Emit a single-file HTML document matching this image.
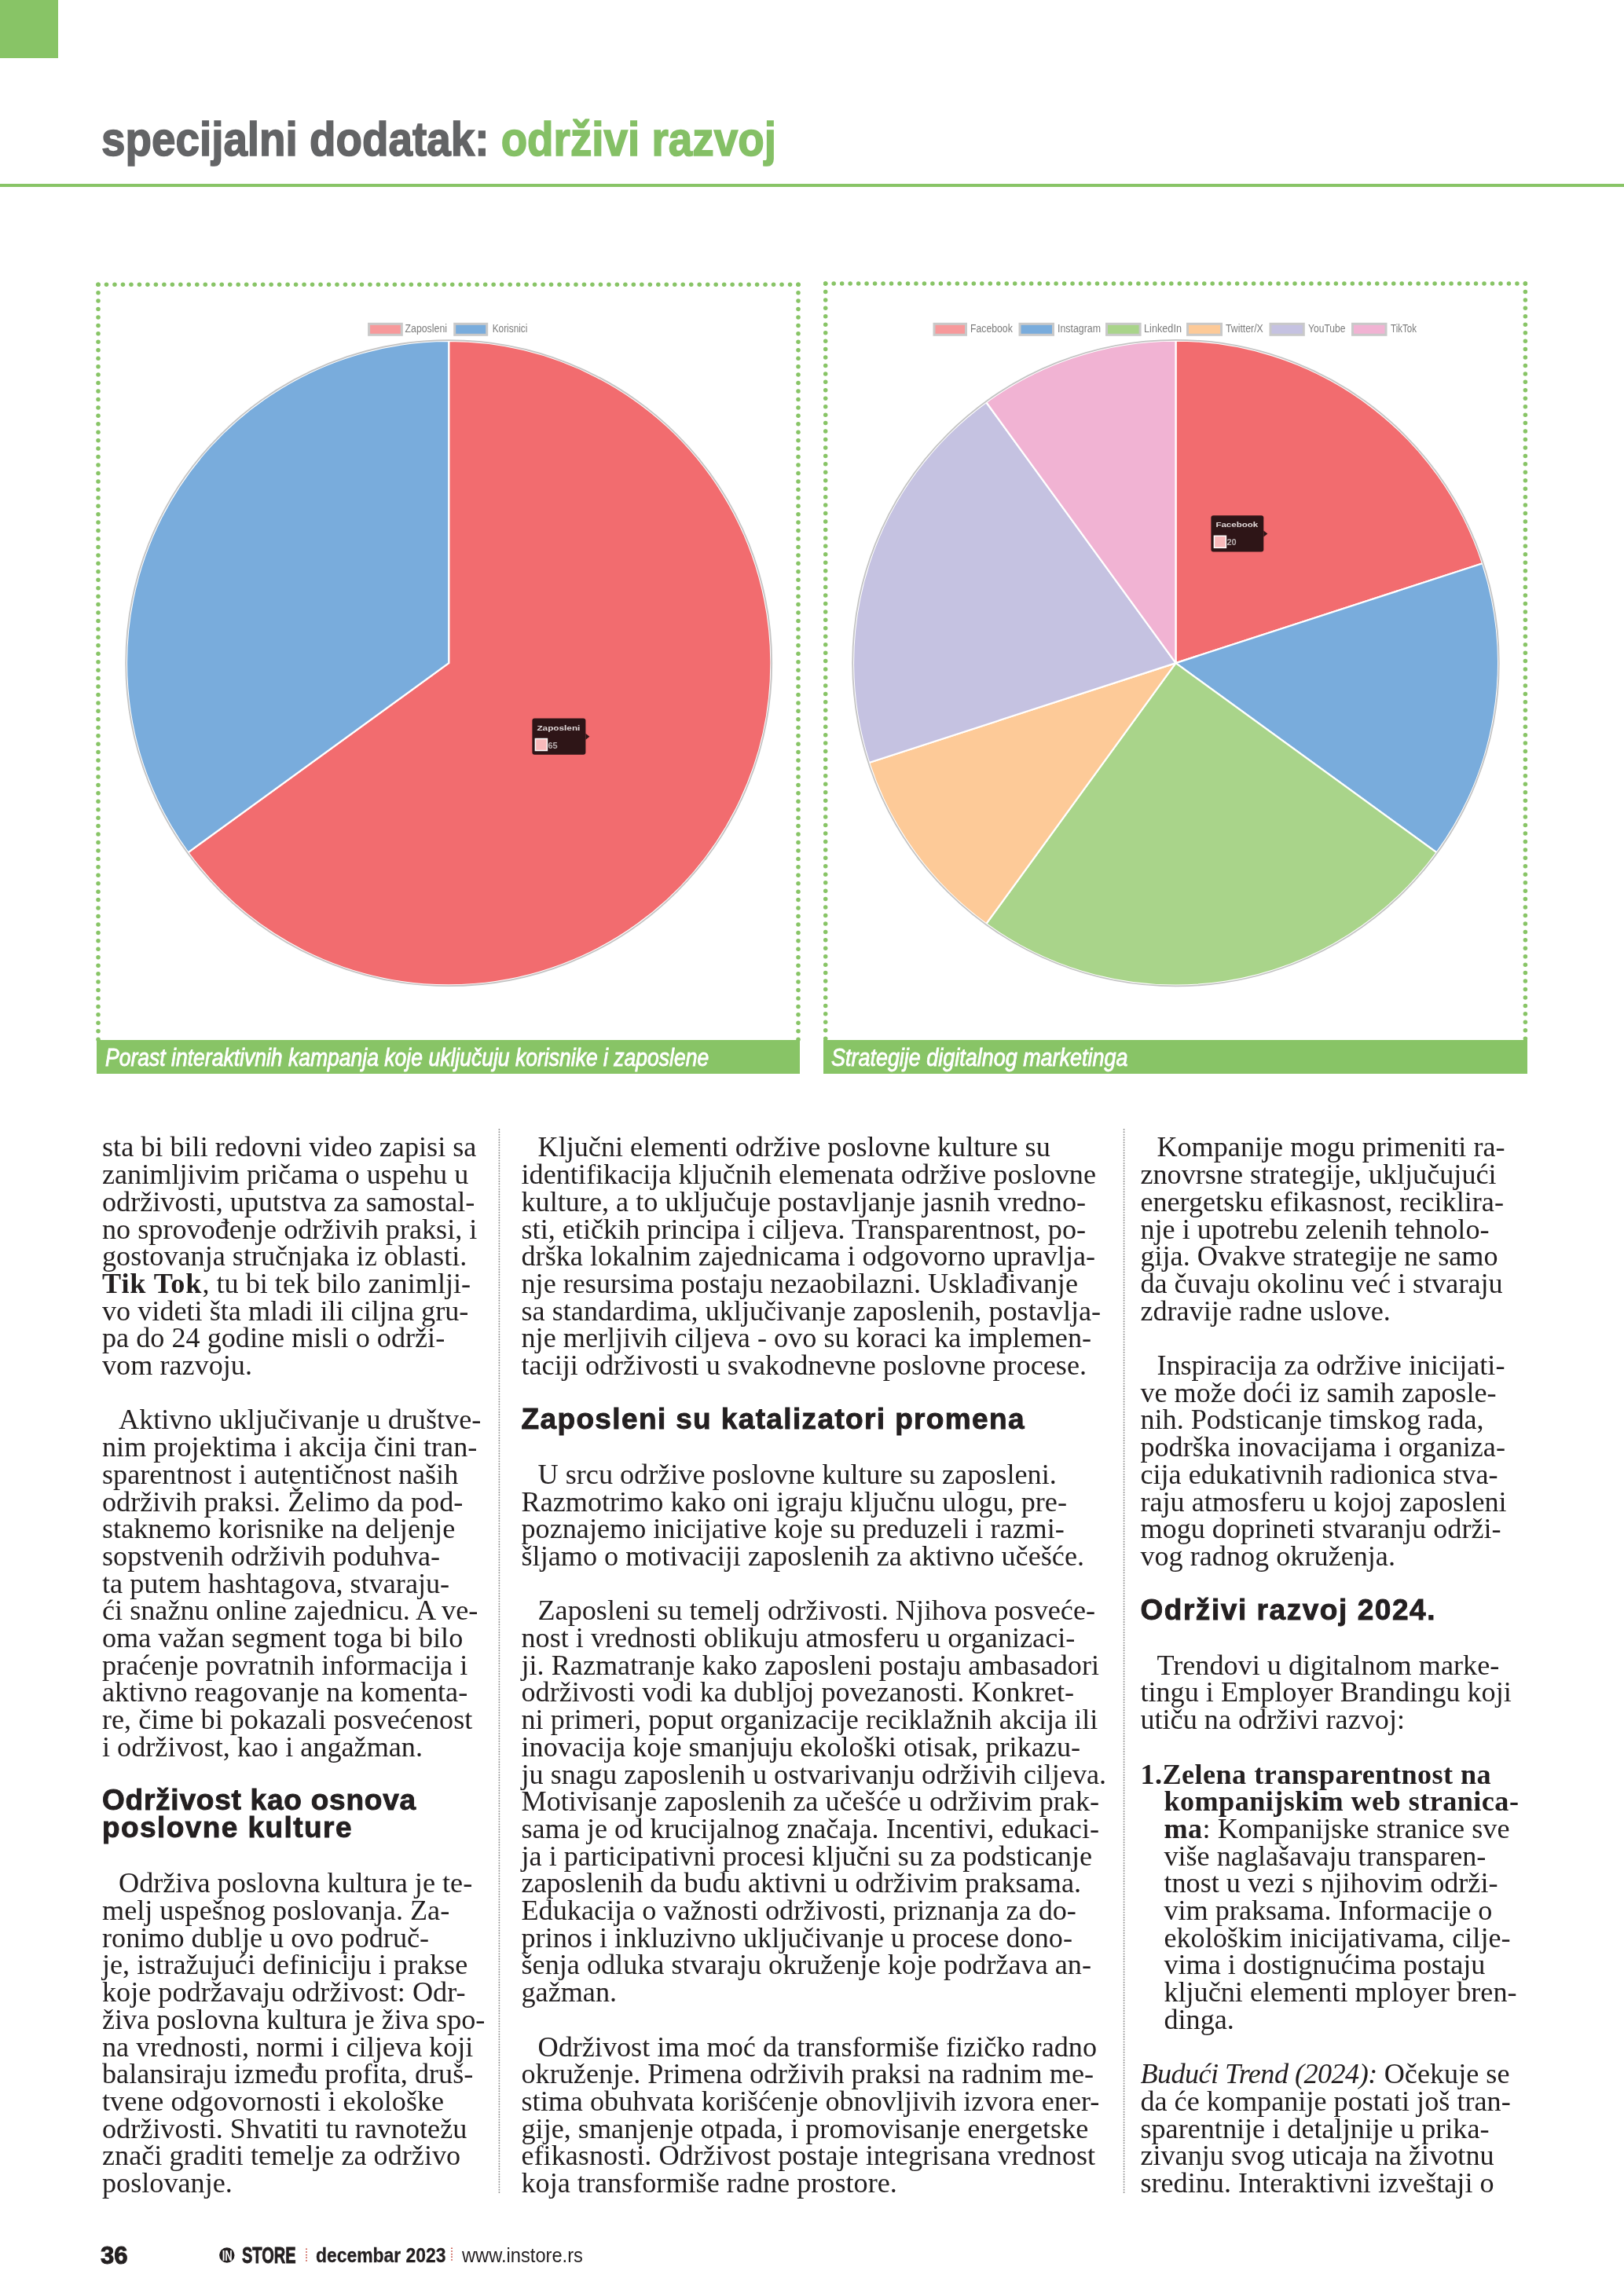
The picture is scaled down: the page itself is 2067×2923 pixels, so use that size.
<!DOCTYPE html>
<html><head><meta charset="utf-8">
<style>
html,body{margin:0;padding:0;background:#fff;}
body{width:2067px;height:2923px;position:relative;overflow:hidden;}
.ln,.hd{position:absolute;white-space:nowrap;height:0;line-height:0;}
#txt{position:absolute;left:0;top:0;width:2067px;height:2923px;will-change:transform;}
.ln span,.hd span{position:absolute;left:0;bottom:0;}
.ln{font-family:"Liberation Serif",serif;font-size:36.2px;color:#231f20;}
.ln b{letter-spacing:0.45px;}
.ln.ind{margin-left:21px;}
.ln.li{margin-left:30px;}
.hd{font-family:"Liberation Sans",sans-serif;font-weight:bold;font-size:37px;color:#231f20;letter-spacing:1.0px;-webkit-text-stroke:0.9px #231f20;}
.title{position:absolute;left:129px;top:0;font-family:"Liberation Sans",sans-serif;font-weight:bold;font-size:62px;white-space:nowrap;transform-origin:0 0;}
.cap{position:absolute;font-family:"Liberation Sans",sans-serif;font-style:italic;font-size:30px;color:#fff;white-space:nowrap;transform-origin:0 0;-webkit-text-stroke:0.9px #fff;}
.bar{position:absolute;background:#88c466;}
.rule{position:absolute;width:2px;background:repeating-linear-gradient(to bottom,#8c8c8c 0 1.7px,transparent 1.7px 3.3px);}
.foot{position:absolute;font-family:"Liberation Sans",sans-serif;font-weight:bold;color:#231f20;white-space:nowrap;}
</style></head><body><div id="pg" style="position:absolute;left:0;top:0;width:2067px;height:2923px;will-change:transform">
<div style="position:absolute;left:0;top:0;width:74px;height:74px;background:#88c466"></div>
<div class="title" style="top:141px;transform:scaleX(0.884)"><span style="color:#636466;-webkit-text-stroke:1.6px #636466">specijalni dodatak:</span> <span style="color:#85c066;-webkit-text-stroke:1.6px #85c066">održivi razvoj</span></div>
<div style="position:absolute;left:0;top:234px;width:2067px;height:3.5px;background:#88c466"></div>
<svg width="2067" height="2923" viewBox="0 0 2067 2923" style="position:absolute;left:0;top:0">
<g fill="#88c466"><circle cx="125.00" cy="362.20" r="2.75"/><circle cx="135.48" cy="362.20" r="2.75"/><circle cx="145.96" cy="362.20" r="2.75"/><circle cx="156.45" cy="362.20" r="2.75"/><circle cx="166.93" cy="362.20" r="2.75"/><circle cx="177.41" cy="362.20" r="2.75"/><circle cx="187.89" cy="362.20" r="2.75"/><circle cx="198.38" cy="362.20" r="2.75"/><circle cx="208.86" cy="362.20" r="2.75"/><circle cx="219.34" cy="362.20" r="2.75"/><circle cx="229.82" cy="362.20" r="2.75"/><circle cx="240.31" cy="362.20" r="2.75"/><circle cx="250.79" cy="362.20" r="2.75"/><circle cx="261.27" cy="362.20" r="2.75"/><circle cx="271.75" cy="362.20" r="2.75"/><circle cx="282.24" cy="362.20" r="2.75"/><circle cx="292.72" cy="362.20" r="2.75"/><circle cx="303.20" cy="362.20" r="2.75"/><circle cx="313.68" cy="362.20" r="2.75"/><circle cx="324.16" cy="362.20" r="2.75"/><circle cx="334.65" cy="362.20" r="2.75"/><circle cx="345.13" cy="362.20" r="2.75"/><circle cx="355.61" cy="362.20" r="2.75"/><circle cx="366.09" cy="362.20" r="2.75"/><circle cx="376.58" cy="362.20" r="2.75"/><circle cx="387.06" cy="362.20" r="2.75"/><circle cx="397.54" cy="362.20" r="2.75"/><circle cx="408.02" cy="362.20" r="2.75"/><circle cx="418.51" cy="362.20" r="2.75"/><circle cx="428.99" cy="362.20" r="2.75"/><circle cx="439.47" cy="362.20" r="2.75"/><circle cx="449.95" cy="362.20" r="2.75"/><circle cx="460.44" cy="362.20" r="2.75"/><circle cx="470.92" cy="362.20" r="2.75"/><circle cx="481.40" cy="362.20" r="2.75"/><circle cx="491.88" cy="362.20" r="2.75"/><circle cx="502.36" cy="362.20" r="2.75"/><circle cx="512.85" cy="362.20" r="2.75"/><circle cx="523.33" cy="362.20" r="2.75"/><circle cx="533.81" cy="362.20" r="2.75"/><circle cx="544.29" cy="362.20" r="2.75"/><circle cx="554.78" cy="362.20" r="2.75"/><circle cx="565.26" cy="362.20" r="2.75"/><circle cx="575.74" cy="362.20" r="2.75"/><circle cx="586.22" cy="362.20" r="2.75"/><circle cx="596.71" cy="362.20" r="2.75"/><circle cx="607.19" cy="362.20" r="2.75"/><circle cx="617.67" cy="362.20" r="2.75"/><circle cx="628.15" cy="362.20" r="2.75"/><circle cx="638.64" cy="362.20" r="2.75"/><circle cx="649.12" cy="362.20" r="2.75"/><circle cx="659.60" cy="362.20" r="2.75"/><circle cx="670.08" cy="362.20" r="2.75"/><circle cx="680.56" cy="362.20" r="2.75"/><circle cx="691.05" cy="362.20" r="2.75"/><circle cx="701.53" cy="362.20" r="2.75"/><circle cx="712.01" cy="362.20" r="2.75"/><circle cx="722.49" cy="362.20" r="2.75"/><circle cx="732.98" cy="362.20" r="2.75"/><circle cx="743.46" cy="362.20" r="2.75"/><circle cx="753.94" cy="362.20" r="2.75"/><circle cx="764.42" cy="362.20" r="2.75"/><circle cx="774.91" cy="362.20" r="2.75"/><circle cx="785.39" cy="362.20" r="2.75"/><circle cx="795.87" cy="362.20" r="2.75"/><circle cx="806.35" cy="362.20" r="2.75"/><circle cx="816.84" cy="362.20" r="2.75"/><circle cx="827.32" cy="362.20" r="2.75"/><circle cx="837.80" cy="362.20" r="2.75"/><circle cx="848.28" cy="362.20" r="2.75"/><circle cx="858.76" cy="362.20" r="2.75"/><circle cx="869.25" cy="362.20" r="2.75"/><circle cx="879.73" cy="362.20" r="2.75"/><circle cx="890.21" cy="362.20" r="2.75"/><circle cx="900.69" cy="362.20" r="2.75"/><circle cx="911.18" cy="362.20" r="2.75"/><circle cx="921.66" cy="362.20" r="2.75"/><circle cx="932.14" cy="362.20" r="2.75"/><circle cx="942.62" cy="362.20" r="2.75"/><circle cx="953.11" cy="362.20" r="2.75"/><circle cx="963.59" cy="362.20" r="2.75"/><circle cx="974.07" cy="362.20" r="2.75"/><circle cx="984.55" cy="362.20" r="2.75"/><circle cx="995.04" cy="362.20" r="2.75"/><circle cx="1005.52" cy="362.20" r="2.75"/><circle cx="1016.00" cy="362.20" r="2.75"/><circle cx="125.00" cy="362.20" r="2.75"/><circle cx="125.00" cy="372.65" r="2.75"/><circle cx="125.00" cy="383.09" r="2.75"/><circle cx="125.00" cy="393.54" r="2.75"/><circle cx="125.00" cy="403.98" r="2.75"/><circle cx="125.00" cy="414.43" r="2.75"/><circle cx="125.00" cy="424.87" r="2.75"/><circle cx="125.00" cy="435.32" r="2.75"/><circle cx="125.00" cy="445.77" r="2.75"/><circle cx="125.00" cy="456.21" r="2.75"/><circle cx="125.00" cy="466.66" r="2.75"/><circle cx="125.00" cy="477.10" r="2.75"/><circle cx="125.00" cy="487.55" r="2.75"/><circle cx="125.00" cy="497.99" r="2.75"/><circle cx="125.00" cy="508.44" r="2.75"/><circle cx="125.00" cy="518.88" r="2.75"/><circle cx="125.00" cy="529.33" r="2.75"/><circle cx="125.00" cy="539.78" r="2.75"/><circle cx="125.00" cy="550.22" r="2.75"/><circle cx="125.00" cy="560.67" r="2.75"/><circle cx="125.00" cy="571.11" r="2.75"/><circle cx="125.00" cy="581.56" r="2.75"/><circle cx="125.00" cy="592.00" r="2.75"/><circle cx="125.00" cy="602.45" r="2.75"/><circle cx="125.00" cy="612.90" r="2.75"/><circle cx="125.00" cy="623.34" r="2.75"/><circle cx="125.00" cy="633.79" r="2.75"/><circle cx="125.00" cy="644.23" r="2.75"/><circle cx="125.00" cy="654.68" r="2.75"/><circle cx="125.00" cy="665.12" r="2.75"/><circle cx="125.00" cy="675.57" r="2.75"/><circle cx="125.00" cy="686.02" r="2.75"/><circle cx="125.00" cy="696.46" r="2.75"/><circle cx="125.00" cy="706.91" r="2.75"/><circle cx="125.00" cy="717.35" r="2.75"/><circle cx="125.00" cy="727.80" r="2.75"/><circle cx="125.00" cy="738.24" r="2.75"/><circle cx="125.00" cy="748.69" r="2.75"/><circle cx="125.00" cy="759.13" r="2.75"/><circle cx="125.00" cy="769.58" r="2.75"/><circle cx="125.00" cy="780.03" r="2.75"/><circle cx="125.00" cy="790.47" r="2.75"/><circle cx="125.00" cy="800.92" r="2.75"/><circle cx="125.00" cy="811.36" r="2.75"/><circle cx="125.00" cy="821.81" r="2.75"/><circle cx="125.00" cy="832.25" r="2.75"/><circle cx="125.00" cy="842.70" r="2.75"/><circle cx="125.00" cy="853.15" r="2.75"/><circle cx="125.00" cy="863.59" r="2.75"/><circle cx="125.00" cy="874.04" r="2.75"/><circle cx="125.00" cy="884.48" r="2.75"/><circle cx="125.00" cy="894.93" r="2.75"/><circle cx="125.00" cy="905.37" r="2.75"/><circle cx="125.00" cy="915.82" r="2.75"/><circle cx="125.00" cy="926.27" r="2.75"/><circle cx="125.00" cy="936.71" r="2.75"/><circle cx="125.00" cy="947.16" r="2.75"/><circle cx="125.00" cy="957.60" r="2.75"/><circle cx="125.00" cy="968.05" r="2.75"/><circle cx="125.00" cy="978.49" r="2.75"/><circle cx="125.00" cy="988.94" r="2.75"/><circle cx="125.00" cy="999.38" r="2.75"/><circle cx="125.00" cy="1009.83" r="2.75"/><circle cx="125.00" cy="1020.28" r="2.75"/><circle cx="125.00" cy="1030.72" r="2.75"/><circle cx="125.00" cy="1041.17" r="2.75"/><circle cx="125.00" cy="1051.61" r="2.75"/><circle cx="125.00" cy="1062.06" r="2.75"/><circle cx="125.00" cy="1072.50" r="2.75"/><circle cx="125.00" cy="1082.95" r="2.75"/><circle cx="125.00" cy="1093.40" r="2.75"/><circle cx="125.00" cy="1103.84" r="2.75"/><circle cx="125.00" cy="1114.29" r="2.75"/><circle cx="125.00" cy="1124.73" r="2.75"/><circle cx="125.00" cy="1135.18" r="2.75"/><circle cx="125.00" cy="1145.62" r="2.75"/><circle cx="125.00" cy="1156.07" r="2.75"/><circle cx="125.00" cy="1166.52" r="2.75"/><circle cx="125.00" cy="1176.96" r="2.75"/><circle cx="125.00" cy="1187.41" r="2.75"/><circle cx="125.00" cy="1197.85" r="2.75"/><circle cx="125.00" cy="1208.30" r="2.75"/><circle cx="125.00" cy="1218.74" r="2.75"/><circle cx="125.00" cy="1229.19" r="2.75"/><circle cx="125.00" cy="1239.63" r="2.75"/><circle cx="125.00" cy="1250.08" r="2.75"/><circle cx="125.00" cy="1260.53" r="2.75"/><circle cx="125.00" cy="1270.97" r="2.75"/><circle cx="125.00" cy="1281.42" r="2.75"/><circle cx="125.00" cy="1291.86" r="2.75"/><circle cx="125.00" cy="1302.31" r="2.75"/><circle cx="125.00" cy="1312.75" r="2.75"/><circle cx="125.00" cy="1323.20" r="2.75"/><circle cx="1016.00" cy="362.20" r="2.75"/><circle cx="1016.00" cy="372.65" r="2.75"/><circle cx="1016.00" cy="383.09" r="2.75"/><circle cx="1016.00" cy="393.54" r="2.75"/><circle cx="1016.00" cy="403.98" r="2.75"/><circle cx="1016.00" cy="414.43" r="2.75"/><circle cx="1016.00" cy="424.87" r="2.75"/><circle cx="1016.00" cy="435.32" r="2.75"/><circle cx="1016.00" cy="445.77" r="2.75"/><circle cx="1016.00" cy="456.21" r="2.75"/><circle cx="1016.00" cy="466.66" r="2.75"/><circle cx="1016.00" cy="477.10" r="2.75"/><circle cx="1016.00" cy="487.55" r="2.75"/><circle cx="1016.00" cy="497.99" r="2.75"/><circle cx="1016.00" cy="508.44" r="2.75"/><circle cx="1016.00" cy="518.88" r="2.75"/><circle cx="1016.00" cy="529.33" r="2.75"/><circle cx="1016.00" cy="539.78" r="2.75"/><circle cx="1016.00" cy="550.22" r="2.75"/><circle cx="1016.00" cy="560.67" r="2.75"/><circle cx="1016.00" cy="571.11" r="2.75"/><circle cx="1016.00" cy="581.56" r="2.75"/><circle cx="1016.00" cy="592.00" r="2.75"/><circle cx="1016.00" cy="602.45" r="2.75"/><circle cx="1016.00" cy="612.90" r="2.75"/><circle cx="1016.00" cy="623.34" r="2.75"/><circle cx="1016.00" cy="633.79" r="2.75"/><circle cx="1016.00" cy="644.23" r="2.75"/><circle cx="1016.00" cy="654.68" r="2.75"/><circle cx="1016.00" cy="665.12" r="2.75"/><circle cx="1016.00" cy="675.57" r="2.75"/><circle cx="1016.00" cy="686.02" r="2.75"/><circle cx="1016.00" cy="696.46" r="2.75"/><circle cx="1016.00" cy="706.91" r="2.75"/><circle cx="1016.00" cy="717.35" r="2.75"/><circle cx="1016.00" cy="727.80" r="2.75"/><circle cx="1016.00" cy="738.24" r="2.75"/><circle cx="1016.00" cy="748.69" r="2.75"/><circle cx="1016.00" cy="759.13" r="2.75"/><circle cx="1016.00" cy="769.58" r="2.75"/><circle cx="1016.00" cy="780.03" r="2.75"/><circle cx="1016.00" cy="790.47" r="2.75"/><circle cx="1016.00" cy="800.92" r="2.75"/><circle cx="1016.00" cy="811.36" r="2.75"/><circle cx="1016.00" cy="821.81" r="2.75"/><circle cx="1016.00" cy="832.25" r="2.75"/><circle cx="1016.00" cy="842.70" r="2.75"/><circle cx="1016.00" cy="853.15" r="2.75"/><circle cx="1016.00" cy="863.59" r="2.75"/><circle cx="1016.00" cy="874.04" r="2.75"/><circle cx="1016.00" cy="884.48" r="2.75"/><circle cx="1016.00" cy="894.93" r="2.75"/><circle cx="1016.00" cy="905.37" r="2.75"/><circle cx="1016.00" cy="915.82" r="2.75"/><circle cx="1016.00" cy="926.27" r="2.75"/><circle cx="1016.00" cy="936.71" r="2.75"/><circle cx="1016.00" cy="947.16" r="2.75"/><circle cx="1016.00" cy="957.60" r="2.75"/><circle cx="1016.00" cy="968.05" r="2.75"/><circle cx="1016.00" cy="978.49" r="2.75"/><circle cx="1016.00" cy="988.94" r="2.75"/><circle cx="1016.00" cy="999.38" r="2.75"/><circle cx="1016.00" cy="1009.83" r="2.75"/><circle cx="1016.00" cy="1020.28" r="2.75"/><circle cx="1016.00" cy="1030.72" r="2.75"/><circle cx="1016.00" cy="1041.17" r="2.75"/><circle cx="1016.00" cy="1051.61" r="2.75"/><circle cx="1016.00" cy="1062.06" r="2.75"/><circle cx="1016.00" cy="1072.50" r="2.75"/><circle cx="1016.00" cy="1082.95" r="2.75"/><circle cx="1016.00" cy="1093.40" r="2.75"/><circle cx="1016.00" cy="1103.84" r="2.75"/><circle cx="1016.00" cy="1114.29" r="2.75"/><circle cx="1016.00" cy="1124.73" r="2.75"/><circle cx="1016.00" cy="1135.18" r="2.75"/><circle cx="1016.00" cy="1145.62" r="2.75"/><circle cx="1016.00" cy="1156.07" r="2.75"/><circle cx="1016.00" cy="1166.52" r="2.75"/><circle cx="1016.00" cy="1176.96" r="2.75"/><circle cx="1016.00" cy="1187.41" r="2.75"/><circle cx="1016.00" cy="1197.85" r="2.75"/><circle cx="1016.00" cy="1208.30" r="2.75"/><circle cx="1016.00" cy="1218.74" r="2.75"/><circle cx="1016.00" cy="1229.19" r="2.75"/><circle cx="1016.00" cy="1239.63" r="2.75"/><circle cx="1016.00" cy="1250.08" r="2.75"/><circle cx="1016.00" cy="1260.53" r="2.75"/><circle cx="1016.00" cy="1270.97" r="2.75"/><circle cx="1016.00" cy="1281.42" r="2.75"/><circle cx="1016.00" cy="1291.86" r="2.75"/><circle cx="1016.00" cy="1302.31" r="2.75"/><circle cx="1016.00" cy="1312.75" r="2.75"/><circle cx="1016.00" cy="1323.20" r="2.75"/></g>
<g fill="#88c466"><circle cx="1050.70" cy="361.00" r="2.75"/><circle cx="1061.18" cy="361.00" r="2.75"/><circle cx="1071.66" cy="361.00" r="2.75"/><circle cx="1082.14" cy="361.00" r="2.75"/><circle cx="1092.62" cy="361.00" r="2.75"/><circle cx="1103.09" cy="361.00" r="2.75"/><circle cx="1113.57" cy="361.00" r="2.75"/><circle cx="1124.05" cy="361.00" r="2.75"/><circle cx="1134.53" cy="361.00" r="2.75"/><circle cx="1145.01" cy="361.00" r="2.75"/><circle cx="1155.49" cy="361.00" r="2.75"/><circle cx="1165.97" cy="361.00" r="2.75"/><circle cx="1176.45" cy="361.00" r="2.75"/><circle cx="1186.92" cy="361.00" r="2.75"/><circle cx="1197.40" cy="361.00" r="2.75"/><circle cx="1207.88" cy="361.00" r="2.75"/><circle cx="1218.36" cy="361.00" r="2.75"/><circle cx="1228.84" cy="361.00" r="2.75"/><circle cx="1239.32" cy="361.00" r="2.75"/><circle cx="1249.80" cy="361.00" r="2.75"/><circle cx="1260.28" cy="361.00" r="2.75"/><circle cx="1270.76" cy="361.00" r="2.75"/><circle cx="1281.23" cy="361.00" r="2.75"/><circle cx="1291.71" cy="361.00" r="2.75"/><circle cx="1302.19" cy="361.00" r="2.75"/><circle cx="1312.67" cy="361.00" r="2.75"/><circle cx="1323.15" cy="361.00" r="2.75"/><circle cx="1333.63" cy="361.00" r="2.75"/><circle cx="1344.11" cy="361.00" r="2.75"/><circle cx="1354.59" cy="361.00" r="2.75"/><circle cx="1365.06" cy="361.00" r="2.75"/><circle cx="1375.54" cy="361.00" r="2.75"/><circle cx="1386.02" cy="361.00" r="2.75"/><circle cx="1396.50" cy="361.00" r="2.75"/><circle cx="1406.98" cy="361.00" r="2.75"/><circle cx="1417.46" cy="361.00" r="2.75"/><circle cx="1427.94" cy="361.00" r="2.75"/><circle cx="1438.42" cy="361.00" r="2.75"/><circle cx="1448.90" cy="361.00" r="2.75"/><circle cx="1459.37" cy="361.00" r="2.75"/><circle cx="1469.85" cy="361.00" r="2.75"/><circle cx="1480.33" cy="361.00" r="2.75"/><circle cx="1490.81" cy="361.00" r="2.75"/><circle cx="1501.29" cy="361.00" r="2.75"/><circle cx="1511.77" cy="361.00" r="2.75"/><circle cx="1522.25" cy="361.00" r="2.75"/><circle cx="1532.73" cy="361.00" r="2.75"/><circle cx="1543.20" cy="361.00" r="2.75"/><circle cx="1553.68" cy="361.00" r="2.75"/><circle cx="1564.16" cy="361.00" r="2.75"/><circle cx="1574.64" cy="361.00" r="2.75"/><circle cx="1585.12" cy="361.00" r="2.75"/><circle cx="1595.60" cy="361.00" r="2.75"/><circle cx="1606.08" cy="361.00" r="2.75"/><circle cx="1616.56" cy="361.00" r="2.75"/><circle cx="1627.04" cy="361.00" r="2.75"/><circle cx="1637.51" cy="361.00" r="2.75"/><circle cx="1647.99" cy="361.00" r="2.75"/><circle cx="1658.47" cy="361.00" r="2.75"/><circle cx="1668.95" cy="361.00" r="2.75"/><circle cx="1679.43" cy="361.00" r="2.75"/><circle cx="1689.91" cy="361.00" r="2.75"/><circle cx="1700.39" cy="361.00" r="2.75"/><circle cx="1710.87" cy="361.00" r="2.75"/><circle cx="1721.34" cy="361.00" r="2.75"/><circle cx="1731.82" cy="361.00" r="2.75"/><circle cx="1742.30" cy="361.00" r="2.75"/><circle cx="1752.78" cy="361.00" r="2.75"/><circle cx="1763.26" cy="361.00" r="2.75"/><circle cx="1773.74" cy="361.00" r="2.75"/><circle cx="1784.22" cy="361.00" r="2.75"/><circle cx="1794.70" cy="361.00" r="2.75"/><circle cx="1805.18" cy="361.00" r="2.75"/><circle cx="1815.65" cy="361.00" r="2.75"/><circle cx="1826.13" cy="361.00" r="2.75"/><circle cx="1836.61" cy="361.00" r="2.75"/><circle cx="1847.09" cy="361.00" r="2.75"/><circle cx="1857.57" cy="361.00" r="2.75"/><circle cx="1868.05" cy="361.00" r="2.75"/><circle cx="1878.53" cy="361.00" r="2.75"/><circle cx="1889.01" cy="361.00" r="2.75"/><circle cx="1899.48" cy="361.00" r="2.75"/><circle cx="1909.96" cy="361.00" r="2.75"/><circle cx="1920.44" cy="361.00" r="2.75"/><circle cx="1930.92" cy="361.00" r="2.75"/><circle cx="1941.40" cy="361.00" r="2.75"/><circle cx="1050.70" cy="361.00" r="2.75"/><circle cx="1050.70" cy="371.45" r="2.75"/><circle cx="1050.70" cy="381.90" r="2.75"/><circle cx="1050.70" cy="392.34" r="2.75"/><circle cx="1050.70" cy="402.79" r="2.75"/><circle cx="1050.70" cy="413.24" r="2.75"/><circle cx="1050.70" cy="423.69" r="2.75"/><circle cx="1050.70" cy="434.13" r="2.75"/><circle cx="1050.70" cy="444.58" r="2.75"/><circle cx="1050.70" cy="455.03" r="2.75"/><circle cx="1050.70" cy="465.48" r="2.75"/><circle cx="1050.70" cy="475.93" r="2.75"/><circle cx="1050.70" cy="486.37" r="2.75"/><circle cx="1050.70" cy="496.82" r="2.75"/><circle cx="1050.70" cy="507.27" r="2.75"/><circle cx="1050.70" cy="517.72" r="2.75"/><circle cx="1050.70" cy="528.17" r="2.75"/><circle cx="1050.70" cy="538.61" r="2.75"/><circle cx="1050.70" cy="549.06" r="2.75"/><circle cx="1050.70" cy="559.51" r="2.75"/><circle cx="1050.70" cy="569.96" r="2.75"/><circle cx="1050.70" cy="580.40" r="2.75"/><circle cx="1050.70" cy="590.85" r="2.75"/><circle cx="1050.70" cy="601.30" r="2.75"/><circle cx="1050.70" cy="611.75" r="2.75"/><circle cx="1050.70" cy="622.20" r="2.75"/><circle cx="1050.70" cy="632.64" r="2.75"/><circle cx="1050.70" cy="643.09" r="2.75"/><circle cx="1050.70" cy="653.54" r="2.75"/><circle cx="1050.70" cy="663.99" r="2.75"/><circle cx="1050.70" cy="674.43" r="2.75"/><circle cx="1050.70" cy="684.88" r="2.75"/><circle cx="1050.70" cy="695.33" r="2.75"/><circle cx="1050.70" cy="705.78" r="2.75"/><circle cx="1050.70" cy="716.23" r="2.75"/><circle cx="1050.70" cy="726.67" r="2.75"/><circle cx="1050.70" cy="737.12" r="2.75"/><circle cx="1050.70" cy="747.57" r="2.75"/><circle cx="1050.70" cy="758.02" r="2.75"/><circle cx="1050.70" cy="768.47" r="2.75"/><circle cx="1050.70" cy="778.91" r="2.75"/><circle cx="1050.70" cy="789.36" r="2.75"/><circle cx="1050.70" cy="799.81" r="2.75"/><circle cx="1050.70" cy="810.26" r="2.75"/><circle cx="1050.70" cy="820.70" r="2.75"/><circle cx="1050.70" cy="831.15" r="2.75"/><circle cx="1050.70" cy="841.60" r="2.75"/><circle cx="1050.70" cy="852.05" r="2.75"/><circle cx="1050.70" cy="862.50" r="2.75"/><circle cx="1050.70" cy="872.94" r="2.75"/><circle cx="1050.70" cy="883.39" r="2.75"/><circle cx="1050.70" cy="893.84" r="2.75"/><circle cx="1050.70" cy="904.29" r="2.75"/><circle cx="1050.70" cy="914.73" r="2.75"/><circle cx="1050.70" cy="925.18" r="2.75"/><circle cx="1050.70" cy="935.63" r="2.75"/><circle cx="1050.70" cy="946.08" r="2.75"/><circle cx="1050.70" cy="956.53" r="2.75"/><circle cx="1050.70" cy="966.97" r="2.75"/><circle cx="1050.70" cy="977.42" r="2.75"/><circle cx="1050.70" cy="987.87" r="2.75"/><circle cx="1050.70" cy="998.32" r="2.75"/><circle cx="1050.70" cy="1008.77" r="2.75"/><circle cx="1050.70" cy="1019.21" r="2.75"/><circle cx="1050.70" cy="1029.66" r="2.75"/><circle cx="1050.70" cy="1040.11" r="2.75"/><circle cx="1050.70" cy="1050.56" r="2.75"/><circle cx="1050.70" cy="1061.00" r="2.75"/><circle cx="1050.70" cy="1071.45" r="2.75"/><circle cx="1050.70" cy="1081.90" r="2.75"/><circle cx="1050.70" cy="1092.35" r="2.75"/><circle cx="1050.70" cy="1102.80" r="2.75"/><circle cx="1050.70" cy="1113.24" r="2.75"/><circle cx="1050.70" cy="1123.69" r="2.75"/><circle cx="1050.70" cy="1134.14" r="2.75"/><circle cx="1050.70" cy="1144.59" r="2.75"/><circle cx="1050.70" cy="1155.03" r="2.75"/><circle cx="1050.70" cy="1165.48" r="2.75"/><circle cx="1050.70" cy="1175.93" r="2.75"/><circle cx="1050.70" cy="1186.38" r="2.75"/><circle cx="1050.70" cy="1196.83" r="2.75"/><circle cx="1050.70" cy="1207.27" r="2.75"/><circle cx="1050.70" cy="1217.72" r="2.75"/><circle cx="1050.70" cy="1228.17" r="2.75"/><circle cx="1050.70" cy="1238.62" r="2.75"/><circle cx="1050.70" cy="1249.07" r="2.75"/><circle cx="1050.70" cy="1259.51" r="2.75"/><circle cx="1050.70" cy="1269.96" r="2.75"/><circle cx="1050.70" cy="1280.41" r="2.75"/><circle cx="1050.70" cy="1290.86" r="2.75"/><circle cx="1050.70" cy="1301.30" r="2.75"/><circle cx="1050.70" cy="1311.75" r="2.75"/><circle cx="1050.70" cy="1322.20" r="2.75"/><circle cx="1941.40" cy="361.00" r="2.75"/><circle cx="1941.40" cy="371.45" r="2.75"/><circle cx="1941.40" cy="381.90" r="2.75"/><circle cx="1941.40" cy="392.34" r="2.75"/><circle cx="1941.40" cy="402.79" r="2.75"/><circle cx="1941.40" cy="413.24" r="2.75"/><circle cx="1941.40" cy="423.69" r="2.75"/><circle cx="1941.40" cy="434.13" r="2.75"/><circle cx="1941.40" cy="444.58" r="2.75"/><circle cx="1941.40" cy="455.03" r="2.75"/><circle cx="1941.40" cy="465.48" r="2.75"/><circle cx="1941.40" cy="475.93" r="2.75"/><circle cx="1941.40" cy="486.37" r="2.75"/><circle cx="1941.40" cy="496.82" r="2.75"/><circle cx="1941.40" cy="507.27" r="2.75"/><circle cx="1941.40" cy="517.72" r="2.75"/><circle cx="1941.40" cy="528.17" r="2.75"/><circle cx="1941.40" cy="538.61" r="2.75"/><circle cx="1941.40" cy="549.06" r="2.75"/><circle cx="1941.40" cy="559.51" r="2.75"/><circle cx="1941.40" cy="569.96" r="2.75"/><circle cx="1941.40" cy="580.40" r="2.75"/><circle cx="1941.40" cy="590.85" r="2.75"/><circle cx="1941.40" cy="601.30" r="2.75"/><circle cx="1941.40" cy="611.75" r="2.75"/><circle cx="1941.40" cy="622.20" r="2.75"/><circle cx="1941.40" cy="632.64" r="2.75"/><circle cx="1941.40" cy="643.09" r="2.75"/><circle cx="1941.40" cy="653.54" r="2.75"/><circle cx="1941.40" cy="663.99" r="2.75"/><circle cx="1941.40" cy="674.43" r="2.75"/><circle cx="1941.40" cy="684.88" r="2.75"/><circle cx="1941.40" cy="695.33" r="2.75"/><circle cx="1941.40" cy="705.78" r="2.75"/><circle cx="1941.40" cy="716.23" r="2.75"/><circle cx="1941.40" cy="726.67" r="2.75"/><circle cx="1941.40" cy="737.12" r="2.75"/><circle cx="1941.40" cy="747.57" r="2.75"/><circle cx="1941.40" cy="758.02" r="2.75"/><circle cx="1941.40" cy="768.47" r="2.75"/><circle cx="1941.40" cy="778.91" r="2.75"/><circle cx="1941.40" cy="789.36" r="2.75"/><circle cx="1941.40" cy="799.81" r="2.75"/><circle cx="1941.40" cy="810.26" r="2.75"/><circle cx="1941.40" cy="820.70" r="2.75"/><circle cx="1941.40" cy="831.15" r="2.75"/><circle cx="1941.40" cy="841.60" r="2.75"/><circle cx="1941.40" cy="852.05" r="2.75"/><circle cx="1941.40" cy="862.50" r="2.75"/><circle cx="1941.40" cy="872.94" r="2.75"/><circle cx="1941.40" cy="883.39" r="2.75"/><circle cx="1941.40" cy="893.84" r="2.75"/><circle cx="1941.40" cy="904.29" r="2.75"/><circle cx="1941.40" cy="914.73" r="2.75"/><circle cx="1941.40" cy="925.18" r="2.75"/><circle cx="1941.40" cy="935.63" r="2.75"/><circle cx="1941.40" cy="946.08" r="2.75"/><circle cx="1941.40" cy="956.53" r="2.75"/><circle cx="1941.40" cy="966.97" r="2.75"/><circle cx="1941.40" cy="977.42" r="2.75"/><circle cx="1941.40" cy="987.87" r="2.75"/><circle cx="1941.40" cy="998.32" r="2.75"/><circle cx="1941.40" cy="1008.77" r="2.75"/><circle cx="1941.40" cy="1019.21" r="2.75"/><circle cx="1941.40" cy="1029.66" r="2.75"/><circle cx="1941.40" cy="1040.11" r="2.75"/><circle cx="1941.40" cy="1050.56" r="2.75"/><circle cx="1941.40" cy="1061.00" r="2.75"/><circle cx="1941.40" cy="1071.45" r="2.75"/><circle cx="1941.40" cy="1081.90" r="2.75"/><circle cx="1941.40" cy="1092.35" r="2.75"/><circle cx="1941.40" cy="1102.80" r="2.75"/><circle cx="1941.40" cy="1113.24" r="2.75"/><circle cx="1941.40" cy="1123.69" r="2.75"/><circle cx="1941.40" cy="1134.14" r="2.75"/><circle cx="1941.40" cy="1144.59" r="2.75"/><circle cx="1941.40" cy="1155.03" r="2.75"/><circle cx="1941.40" cy="1165.48" r="2.75"/><circle cx="1941.40" cy="1175.93" r="2.75"/><circle cx="1941.40" cy="1186.38" r="2.75"/><circle cx="1941.40" cy="1196.83" r="2.75"/><circle cx="1941.40" cy="1207.27" r="2.75"/><circle cx="1941.40" cy="1217.72" r="2.75"/><circle cx="1941.40" cy="1228.17" r="2.75"/><circle cx="1941.40" cy="1238.62" r="2.75"/><circle cx="1941.40" cy="1249.07" r="2.75"/><circle cx="1941.40" cy="1259.51" r="2.75"/><circle cx="1941.40" cy="1269.96" r="2.75"/><circle cx="1941.40" cy="1280.41" r="2.75"/><circle cx="1941.40" cy="1290.86" r="2.75"/><circle cx="1941.40" cy="1301.30" r="2.75"/><circle cx="1941.40" cy="1311.75" r="2.75"/><circle cx="1941.40" cy="1322.20" r="2.75"/></g>
<path d="M571.20,844.20 L571.20,434.00 A410.2,410.2 0 1 1 239.34,1085.31 Z" fill="#f26c6f" stroke="#fff" stroke-width="2.2" stroke-linejoin="round"/>
<path d="M571.20,844.20 L239.34,1085.31 A410.2,410.2 0 0 1 571.20,434.00 Z" fill="#79acdc" stroke="#fff" stroke-width="2.2" stroke-linejoin="round"/>
<circle cx="571.2" cy="844.2" r="411.0" fill="none" stroke="#c4c4c4" stroke-width="1.8"/>
<path d="M1496.50,844.10 L1496.50,433.60 A410.5,410.5 0 0 1 1886.91,717.25 Z" fill="#f26c6f" stroke="#fff" stroke-width="2.2" stroke-linejoin="round"/>
<path d="M1496.50,844.10 L1886.91,717.25 A410.5,410.5 0 0 1 1828.60,1085.39 Z" fill="#79acdc" stroke="#fff" stroke-width="2.2" stroke-linejoin="round"/>
<path d="M1496.50,844.10 L1828.60,1085.39 A410.5,410.5 0 0 1 1255.21,1176.20 Z" fill="#a9d48a" stroke="#fff" stroke-width="2.2" stroke-linejoin="round"/>
<path d="M1496.50,844.10 L1255.21,1176.20 A410.5,410.5 0 0 1 1106.09,970.95 Z" fill="#fdca98" stroke="#fff" stroke-width="2.2" stroke-linejoin="round"/>
<path d="M1496.50,844.10 L1106.09,970.95 A410.5,410.5 0 0 1 1255.21,512.00 Z" fill="#c5c2e1" stroke="#fff" stroke-width="2.2" stroke-linejoin="round"/>
<path d="M1496.50,844.10 L1255.21,512.00 A410.5,410.5 0 0 1 1496.50,433.60 Z" fill="#f1b3d3" stroke="#fff" stroke-width="2.2" stroke-linejoin="round"/>
<circle cx="1496.5" cy="844.1" r="411.3" fill="none" stroke="#c4c4c4" stroke-width="1.8"/>
<rect x="469.6" y="412.3" width="41.69999999999993" height="14" fill="#f7999b" stroke="#c9c9c9" stroke-width="3"/>
<text x="515.5" y="422.5" font-family="Liberation Sans" font-size="14" fill="#7c7c7c" textLength="53.5" lengthAdjust="spacingAndGlyphs">Zaposleni</text>
<rect x="578.7" y="412.3" width="41.0" height="14" fill="#79acdc" stroke="#c9c9c9" stroke-width="3"/>
<text x="626.7" y="422.5" font-family="Liberation Sans" font-size="14" fill="#7c7c7c" textLength="44.7" lengthAdjust="spacingAndGlyphs">Korisnici</text>
<rect x="1189.0" y="412.3" width="40.5" height="14" fill="#f7999b" stroke="#c9c9c9" stroke-width="3"/>
<text x="1235" y="422.5" font-family="Liberation Sans" font-size="14" fill="#7c7c7c" textLength="53.8" lengthAdjust="spacingAndGlyphs">Facebook</text>
<rect x="1298.0" y="412.3" width="42.5" height="14" fill="#79acdc" stroke="#c9c9c9" stroke-width="3"/>
<text x="1346" y="422.5" font-family="Liberation Sans" font-size="14" fill="#7c7c7c" textLength="55" lengthAdjust="spacingAndGlyphs">Instagram</text>
<rect x="1408.5" y="412.3" width="42.59999999999991" height="14" fill="#a9d48a" stroke="#c9c9c9" stroke-width="3"/>
<text x="1456" y="422.5" font-family="Liberation Sans" font-size="14" fill="#7c7c7c" textLength="48" lengthAdjust="spacingAndGlyphs">LinkedIn</text>
<rect x="1511.5" y="412.3" width="43" height="14" fill="#fdca98" stroke="#c9c9c9" stroke-width="3"/>
<text x="1560" y="422.5" font-family="Liberation Sans" font-size="14" fill="#7c7c7c" textLength="47.8" lengthAdjust="spacingAndGlyphs">Twitter/X</text>
<rect x="1617.0" y="412.3" width="42.299999999999955" height="14" fill="#c5c2e1" stroke="#c9c9c9" stroke-width="3"/>
<text x="1665" y="422.5" font-family="Liberation Sans" font-size="14" fill="#7c7c7c" textLength="47.5" lengthAdjust="spacingAndGlyphs">YouTube</text>
<rect x="1721.5" y="412.3" width="42.5" height="14" fill="#f1b3d3" stroke="#c9c9c9" stroke-width="3"/>
<text x="1770" y="422.5" font-family="Liberation Sans" font-size="14" fill="#7c7c7c" textLength="33" lengthAdjust="spacingAndGlyphs">TikTok</text>
<rect x="677.4" y="914.5" width="68.0" height="46.299999999999955" rx="3" fill="#2e1517"/><path d="M745.4,933.65 l5,4 l-5,4 z" fill="#2e1517"/><text x="683.4" y="929.5" font-family="Liberation Sans" font-weight="bold" font-size="9" fill="#e0d8d8" textLength="55.0" lengthAdjust="spacingAndGlyphs">Zaposleni</text><rect x="681.4" y="940.5" width="15" height="15" fill="#f7b9ba" stroke="#fff" stroke-width="1.5"/><text x="697.4" y="952.5" font-family="Liberation Sans" font-weight="bold" font-size="11" fill="#b8b0b0">65</text>
<rect x="1541.4" y="656.3" width="66.89999999999986" height="46.200000000000045" rx="3" fill="#2e1517"/><path d="M1608.3,675.4 l5,4 l-5,4 z" fill="#2e1517"/><text x="1547.4" y="671.3" font-family="Liberation Sans" font-weight="bold" font-size="9" fill="#e0d8d8" textLength="53.899999999999864" lengthAdjust="spacingAndGlyphs">Facebook</text><rect x="1545.4" y="682.3" width="15" height="15" fill="#f7b9ba" stroke="#fff" stroke-width="1.5"/><text x="1561.4" y="694.3" font-family="Liberation Sans" font-weight="bold" font-size="11" fill="#b8b0b0">20</text>
</svg>
<div class="bar" style="left:123px;top:1324px;width:895px;height:43px"></div>
<div class="bar" style="left:1048px;top:1324px;width:896px;height:43px"></div>
<div class="cap" style="left:134px;top:1328.2px;font-size:32px;transform:scaleX(0.829)">Porast interaktivnih kampanja koje uključuju korisnike i zaposlene</div>
<div class="cap" style="left:1058px;top:1328.2px;font-size:32px;transform:scaleX(0.842)">Strategije digitalnog marketinga</div>
<svg style="position:absolute;left:0;top:0" width="2067" height="2923"><g stroke="#8e8e8e" stroke-width="1.9" stroke-linecap="round" stroke-dasharray="0 3.3"><line x1="635.4" y1="1438" x2="635.4" y2="2794"/><line x1="1430.6" y1="1438" x2="1430.6" y2="2794"/></g></svg>
<div id="txt">
<div class="ln" style="left:130px;top:1460.48px;">sta bi bili redovni video zapisi sa</div>
<div class="ln" style="left:130px;top:1495.18px;">zanimljivim pričama o uspehu u</div>
<div class="ln" style="left:130px;top:1529.88px;">održivosti, uputstva za samostal-</div>
<div class="ln" style="left:130px;top:1564.58px;">no sprovođenje održivih praksi, i</div>
<div class="ln" style="left:130px;top:1599.28px;">gostovanja stručnjaka iz oblasti.</div>
<div class="ln" style="left:130px;top:1633.98px;"><b style="letter-spacing:0.9px">Tik Tok</b>, tu bi tek bilo zanimlji-</div>
<div class="ln" style="left:130px;top:1668.68px;">vo videti šta mladi ili ciljna gru-</div>
<div class="ln" style="left:130px;top:1703.38px;">pa do 24 godine misli o održi-</div>
<div class="ln" style="left:130px;top:1738.08px;">vom razvoju.</div>
<div class="ln ind" style="left:130px;top:1807.48px;">Aktivno uključivanje u društve-</div>
<div class="ln" style="left:130px;top:1842.18px;">nim projektima i akcija čini tran-</div>
<div class="ln" style="left:130px;top:1876.88px;">sparentnost i autentičnost naših</div>
<div class="ln" style="left:130px;top:1911.58px;">održivih praksi. Želimo da pod-</div>
<div class="ln" style="left:130px;top:1946.28px;">staknemo korisnike na deljenje</div>
<div class="ln" style="left:130px;top:1980.98px;">sopstvenih održivih poduhva-</div>
<div class="ln" style="left:130px;top:2015.68px;">ta putem hashtagova, stvaraju-</div>
<div class="ln" style="left:130px;top:2050.38px;">ći snažnu online zajednicu. A ve-</div>
<div class="ln" style="left:130px;top:2085.08px;">oma važan segment toga bi bilo</div>
<div class="ln" style="left:130px;top:2119.78px;">praćenje povratnih informacija i</div>
<div class="ln" style="left:130px;top:2154.48px;">aktivno reagovanje na komenta-</div>
<div class="ln" style="left:130px;top:2189.18px;">re, čime bi pokazali posvećenost</div>
<div class="ln" style="left:130px;top:2223.88px;">i održivost, kao i angažman.</div>
<div class="hd" style="left:130px;top:2292.48px;letter-spacing:0.77px">Održivost kao osnova</div>
<div class="hd" style="left:130px;top:2327.18px;letter-spacing:1.43px">poslovne kulture</div>
<div class="ln ind" style="left:130px;top:2397.38px;">Održiva poslovna kultura je te-</div>
<div class="ln" style="left:130px;top:2432.08px;">melj uspešnog poslovanja. Za-</div>
<div class="ln" style="left:130px;top:2466.78px;">ronimo dublje u ovo područ-</div>
<div class="ln" style="left:130px;top:2501.48px;">je, istražujući definiciju i prakse</div>
<div class="ln" style="left:130px;top:2536.18px;">koje podržavaju održivost: Odr-</div>
<div class="ln" style="left:130px;top:2570.88px;">živa poslovna kultura je živa spo-</div>
<div class="ln" style="left:130px;top:2605.58px;">na vrednosti, normi i ciljeva koji</div>
<div class="ln" style="left:130px;top:2640.28px;">balansiraju između profita, druš-</div>
<div class="ln" style="left:130px;top:2674.98px;">tvene odgovornosti i ekološke</div>
<div class="ln" style="left:130px;top:2709.68px;">održivosti. Shvatiti tu ravnotežu</div>
<div class="ln" style="left:130px;top:2744.38px;">znači graditi temelje za održivo</div>
<div class="ln" style="left:130px;top:2779.08px;">poslovanje.</div>
<div class="ln ind" style="left:663.5px;top:1460.48px;">Ključni elementi održive poslovne kulture su</div>
<div class="ln" style="left:663.5px;top:1495.18px;">identifikacija ključnih elemenata održive poslovne</div>
<div class="ln" style="left:663.5px;top:1529.88px;">kulture, a to uključuje postavljanje jasnih vredno-</div>
<div class="ln" style="left:663.5px;top:1564.58px;">sti, etičkih principa i ciljeva. Transparentnost, po-</div>
<div class="ln" style="left:663.5px;top:1599.28px;">drška lokalnim zajednicama i odgovorno upravlja-</div>
<div class="ln" style="left:663.5px;top:1633.98px;">nje resursima postaju nezaobilazni. Usklađivanje</div>
<div class="ln" style="left:663.5px;top:1668.68px;">sa standardima, uključivanje zaposlenih, postavlja-</div>
<div class="ln" style="left:663.5px;top:1703.38px;">nje merljivih ciljeva - ovo su koraci ka implemen-</div>
<div class="ln" style="left:663.5px;top:1738.08px;">taciji održivosti u svakodnevne poslovne procese.</div>
<div class="hd" style="left:663.5px;top:1806.68px;letter-spacing:1.37px">Zaposleni su katalizatori promena</div>
<div class="ln ind" style="left:663.5px;top:1876.88px;">U srcu održive poslovne kulture su zaposleni.</div>
<div class="ln" style="left:663.5px;top:1911.58px;">Razmotrimo kako oni igraju ključnu ulogu, pre-</div>
<div class="ln" style="left:663.5px;top:1946.28px;">poznajemo inicijative koje su preduzeli i razmi-</div>
<div class="ln" style="left:663.5px;top:1980.98px;">šljamo o motivaciji zaposlenih za aktivno učešće.</div>
<div class="ln ind" style="left:663.5px;top:2050.38px;">Zaposleni su temelj održivosti. Njihova posveće-</div>
<div class="ln" style="left:663.5px;top:2085.08px;">nost i vrednosti oblikuju atmosferu u organizaci-</div>
<div class="ln" style="left:663.5px;top:2119.78px;">ji. Razmatranje kako zaposleni postaju ambasadori</div>
<div class="ln" style="left:663.5px;top:2154.48px;">održivosti vodi ka dubljoj povezanosti. Konkret-</div>
<div class="ln" style="left:663.5px;top:2189.18px;">ni primeri, poput organizacije reciklažnih akcija ili</div>
<div class="ln" style="left:663.5px;top:2223.88px;">inovacija koje smanjuju ekološki otisak, prikazu-</div>
<div class="ln" style="left:663.5px;top:2258.58px;">ju snagu zaposlenih u ostvarivanju održivih ciljeva.</div>
<div class="ln" style="left:663.5px;top:2293.28px;">Motivisanje zaposlenih za učešće u održivim prak-</div>
<div class="ln" style="left:663.5px;top:2327.98px;">sama je od krucijalnog značaja. Incentivi, edukaci-</div>
<div class="ln" style="left:663.5px;top:2362.68px;">ja i participativni procesi ključni su za podsticanje</div>
<div class="ln" style="left:663.5px;top:2397.38px;">zaposlenih da budu aktivni u održivim praksama.</div>
<div class="ln" style="left:663.5px;top:2432.08px;">Edukacija o važnosti održivosti, priznanja za do-</div>
<div class="ln" style="left:663.5px;top:2466.78px;">prinos i inkluzivno uključivanje u procese dono-</div>
<div class="ln" style="left:663.5px;top:2501.48px;">šenja odluka stvaraju okruženje koje podržava an-</div>
<div class="ln" style="left:663.5px;top:2536.18px;">gažman.</div>
<div class="ln ind" style="left:663.5px;top:2605.58px;">Održivost ima moć da transformiše fizičko radno</div>
<div class="ln" style="left:663.5px;top:2640.28px;">okruženje. Primena održivih praksi na radnim me-</div>
<div class="ln" style="left:663.5px;top:2674.98px;">stima obuhvata korišćenje obnovljivih izvora ener-</div>
<div class="ln" style="left:663.5px;top:2709.68px;">gije, smanjenje otpada, i promovisanje energetske</div>
<div class="ln" style="left:663.5px;top:2744.38px;">efikasnosti. Održivost postaje integrisana vrednost</div>
<div class="ln" style="left:663.5px;top:2779.08px;">koja transformiše radne prostore.</div>
<div class="ln ind" style="left:1451.4px;top:1460.48px;">Kompanije mogu primeniti ra-</div>
<div class="ln" style="left:1451.4px;top:1495.18px;">znovrsne strategije, uključujući</div>
<div class="ln" style="left:1451.4px;top:1529.88px;">energetsku efikasnost, reciklira-</div>
<div class="ln" style="left:1451.4px;top:1564.58px;">nje i upotrebu zelenih tehnolo-</div>
<div class="ln" style="left:1451.4px;top:1599.28px;">gija. Ovakve strategije ne samo</div>
<div class="ln" style="left:1451.4px;top:1633.98px;">da čuvaju okolinu već i stvaraju</div>
<div class="ln" style="left:1451.4px;top:1668.68px;">zdravije radne uslove.</div>
<div class="ln ind" style="left:1451.4px;top:1738.08px;">Inspiracija za održive inicijati-</div>
<div class="ln" style="left:1451.4px;top:1772.78px;">ve može doći iz samih zaposle-</div>
<div class="ln" style="left:1451.4px;top:1807.48px;">nih. Podsticanje timskog rada,</div>
<div class="ln" style="left:1451.4px;top:1842.18px;">podrška inovacijama i organiza-</div>
<div class="ln" style="left:1451.4px;top:1876.88px;">cija edukativnih radionica stva-</div>
<div class="ln" style="left:1451.4px;top:1911.58px;">raju atmosferu u kojoj zaposleni</div>
<div class="ln" style="left:1451.4px;top:1946.28px;">mogu doprineti stvaranju održi-</div>
<div class="ln" style="left:1451.4px;top:1980.98px;">vog radnog okruženja.</div>
<div class="hd" style="left:1451.4px;top:2049.58px;letter-spacing:1.56px">Održivi razvoj 2024.</div>
<div class="ln ind" style="left:1451.4px;top:2119.78px;">Trendovi u digitalnom marke-</div>
<div class="ln" style="left:1451.4px;top:2154.48px;">tingu i Employer Brandingu koji</div>
<div class="ln" style="left:1451.4px;top:2189.18px;">utiču na održivi razvoj:</div>
<div class="ln" style="left:1451.4px;top:2258.58px;"><b>1.Zelena transparentnost na</b></div>
<div class="ln li" style="left:1451.4px;top:2293.28px;"><b>kompanijskim web stranica-</b></div>
<div class="ln li" style="left:1451.4px;top:2327.98px;"><b>ma</b>: Kompanijske stranice sve</div>
<div class="ln li" style="left:1451.4px;top:2362.68px;">više naglašavaju transparen-</div>
<div class="ln li" style="left:1451.4px;top:2397.38px;">tnost u vezi s njihovim održi-</div>
<div class="ln li" style="left:1451.4px;top:2432.08px;">vim praksama. Informacije o</div>
<div class="ln li" style="left:1451.4px;top:2466.78px;">ekološkim inicijativama, cilje-</div>
<div class="ln li" style="left:1451.4px;top:2501.48px;">vima i dostignućima postaju</div>
<div class="ln li" style="left:1451.4px;top:2536.18px;">ključni elementi mployer bren-</div>
<div class="ln li" style="left:1451.4px;top:2570.88px;">dinga.</div>
<div class="ln" style="left:1451.4px;top:2640.28px;"><i style="letter-spacing:-0.55px">Budući Trend (2024):</i> Očekuje se</div>
<div class="ln" style="left:1451.4px;top:2674.98px;">da će kompanije postati još tran-</div>
<div class="ln" style="left:1451.4px;top:2709.68px;">sparentnije i detaljnije u prika-</div>
<div class="ln" style="left:1451.4px;top:2744.38px;">zivanju svog uticaja na životnu</div>
<div class="ln" style="left:1451.4px;top:2779.08px;">sredinu. Interaktivni izveštaji o</div>
</div>
<div class="foot" style="left:128px;top:2871.5px;font-size:31px;line-height:0;-webkit-text-stroke:1px #231f20">36</div>
<svg style="position:absolute;left:0;top:0" width="2067" height="2923"><circle cx="288.8" cy="2871" r="9.7" fill="#231f20"/><text x="289.2" y="2877.6" text-anchor="middle" font-family="Liberation Sans" font-weight="bold" font-size="18.5" fill="#fff" textLength="13" lengthAdjust="spacingAndGlyphs">IN</text>
<line x1="390" y1="2862.5" x2="390" y2="2881" stroke="#c23b2e" stroke-width="1.6" stroke-dasharray="1.5 2.2"/>
<line x1="575" y1="2861.5" x2="575" y2="2880" stroke="#c23b2e" stroke-width="1.6" stroke-dasharray="1.5 2.2"/></svg>
<div class="foot" style="left:308.4px;top:2871px;font-size:29px;line-height:0;transform:scaleX(0.69);transform-origin:0 0;-webkit-text-stroke:0.9px #231f20">STORE</div>
<div class="foot" style="left:401.8px;top:2870.5px;font-size:26.4px;line-height:0;transform:scaleX(0.867);transform-origin:0 0;-webkit-text-stroke:0.3px #231f20">decembar 2023</div>
<div class="foot" style="left:588.2px;top:2870.5px;font-size:26.4px;line-height:0;font-weight:normal;transform:scaleX(0.897);transform-origin:0 0">www.instore.rs</div>
</div></body></html>
